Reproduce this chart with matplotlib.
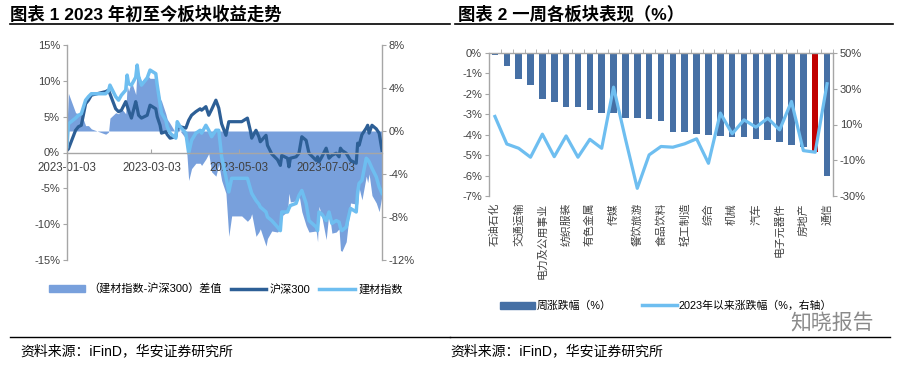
"""
Plot the building materials sector charts: YTD return trend and weekly sector moves.
"""

import matplotlib
matplotlib.use('Agg')
import matplotlib.pyplot as plt
import pandas as pd
from matplotlib.lines import Line2D
from matplotlib.patches import Patch

plt.rcParams['font.family'] = ['Liberation Sans', 'Noto Sans CJK SC', 'DejaVu Sans']
plt.rcParams['axes.unicode_minus'] = False

# ---- chart 1: YTD returns (%), CSI300 and building materials index
dates = [
    '2023-01-03', '2023-01-04', '2023-01-09', '2023-01-11', '2023-01-13',
    '2023-01-16', '2023-01-18', '2023-01-20', '2023-01-30', '2023-02-01',
    '2023-02-02', '2023-02-06', '2023-02-08', '2023-02-10', '2023-02-13',
    '2023-02-14', '2023-02-15', '2023-02-17', '2023-02-20', '2023-02-21',
    '2023-02-22', '2023-02-24', '2023-02-28', '2023-03-02', '2023-03-06',
    '2023-03-07', '2023-03-09', '2023-03-10', '2023-03-13', '2023-03-14',
    '2023-03-16', '2023-03-20', '2023-03-21', '2023-03-23', '2023-03-27',
    '2023-03-29', '2023-03-31', '2023-04-03', '2023-04-06', '2023-04-07',
    '2023-04-10', '2023-04-12', '2023-04-14', '2023-04-17', '2023-04-19',
    '2023-04-21', '2023-04-24', '2023-04-26', '2023-04-28', '2023-05-05',
    '2023-05-09', '2023-05-11', '2023-05-12', '2023-05-15', '2023-05-17',
    '2023-05-18', '2023-05-22', '2023-05-23', '2023-05-26', '2023-05-30',
    '2023-06-01', '2023-06-02', '2023-06-06', '2023-06-07', '2023-06-08',
    '2023-06-12', '2023-06-14', '2023-06-16', '2023-06-19', '2023-06-21',
    '2023-06-26', '2023-06-27', '2023-06-28', '2023-06-30', '2023-07-03',
    '2023-07-05', '2023-07-07', '2023-07-10', '2023-07-12', '2023-07-13',
    '2023-07-14', '2023-07-17', '2023-07-20', '2023-07-24', '2023-07-25',
    '2023-07-26', '2023-07-28', '2023-07-31', '2023-08-01', '2023-08-02',
    '2023-08-04', '2023-08-07', '2023-08-09', '2023-08-11',
]
hs300 = [
    0.3, 0.5, 3.1, 3.6, 3.8, 6.8, 7.3, 8.0, 8.5, 8.7,
    8.2, 6.1, 5.7, 5.9, 7.1, 6.5, 5.9, 4.8, 7.1, 6.2,
    5.2, 4.8, 5.2, 6.6, 6.1, 5.0, 3.8, 2.7, 2.9, 2.5,
    2.0, 2.2, 3.4, 3.6, 3.4, 4.5, 5.2, 5.7, 6.1, 5.9,
    6.4, 5.2, 6.0, 7.3, 6.2, 4.0, 2.4, 4.3, 4.3, 4.3,
    4.8, 3.1, 2.0, 3.1, 2.2, 1.5, 2.4, 1.0, -0.2, -1.0,
    -1.8, -0.4, -0.8, -2.0, -0.8, -0.6, -0.1, 2.2, 1.7, -0.1,
    -1.1, -0.6, -1.3, -0.6, 0.6, -0.8, -0.4, -0.1, -0.6, 0.6,
    0.3, -0.1, -1.1, -1.5, 1.3, 1.0, 2.5, 3.4, 3.8, 2.7,
    3.8, 3.3, 2.7, 0.3,
]
jiancai = [
    0.8, 4.0, 4.8, 5.2, 5.4, 7.3, 7.8, 8.2, 8.2, 8.6,
    9.4, 7.8, 7.3, 8.0, 8.7, 10.8, 9.6, 9.4, 10.5, 12.2,
    10.6, 9.4, 10.4, 11.5, 11.0, 9.4, 6.8, 5.5, 4.5, 3.6,
    2.7, 2.0, 4.3, 3.6, 2.7, -0.1, 1.7, 2.7, 3.1, 2.7,
    3.8, 3.1, 2.2, 3.1, 3.1, -0.6, -3.4, -5.5, -3.6, -3.6,
    -3.6, -5.0, -5.7, -6.7, -7.2, -7.6, -8.3, -9.0, -9.5, -10.4,
    -10.9, -8.3, -8.3, -7.8, -7.4, -7.1, -6.0, -5.3, -7.1, -9.5,
    -10.4, -10.9, -8.3, -8.6, -9.5, -8.3, -9.9, -9.5, -9.7, -10.5,
    -10.9, -10.4, -7.8, -8.3, -5.5, -4.3, -3.9, -0.8, -1.0, -1.3,
    -2.2, -3.4, -4.8, -5.7,
]
date_ticks = ['2023-01-03', '2023-03-03', '2023-05-03', '2023-07-03']

# ---- chart 2: weekly change by sector (%) and YTD change (%, right axis)
sectors = [
    '石油石化', '银行', '交通运输', '非银行金融', '电力及公用事业', '煤炭',
    '纺织服装', '基础化工', '有色金属', '国防军工', '传媒', '农林牧渔',
    '餐饮旅游', '商贸零售', '食品饮料', '医药', '轻工制造', '家电',
    '综合', '钢铁', '机械', '建筑', '汽车', '电力设备及新能源',
    '电子元器件', '计算机', '房地产', '建材', '通信',
]
week_chg = [
    -0.08, -0.62, -1.28, -1.59, -2.25, -2.38, -2.62, -2.64, -2.79, -2.92,
    -2.92, -3.16, -3.16, -3.21, -3.31, -3.85, -3.89, -3.97, -4.00, -4.07,
    -4.10, -4.10, -4.23, -4.26, -4.38, -4.51, -4.59, -4.84, -6.00,
]
ytd_chg = [
    14.5, -0.9, -3.3, -8.3, 4.6, -8.0, 3.6, -8.3, 1.7, -3.3,
    30.9, 2.0, -25.7, -7.0, -2.3, -2.7, -0.8, 2.0, -11.7, 16.4,
    4.8, 12.6, 8.5, 13.5, 7.0, 22.9, -4.6, -5.5, 32.8,
]
highlight = '建材'

DARK = '#2D5F96'
LIGHT = '#6EBEF0'
AREA = '#78A0DC'
BAR = '#4670A5'
RED = '#C00000'
GREY = '#A6A6A6'


def px_axes(fig, x0, y0, x1, y1, W=904, H=365):
    return fig.add_axes([x0 / W, 1 - y1 / H, (x1 - x0) / W, (y1 - y0) / H])


def style_spines(ax, keep):
    for side, sp in ax.spines.items():
        sp.set_visible(side in keep)
        sp.set_color(GREY)
        sp.set_linewidth(1.0)


fig = plt.figure(figsize=(9.04, 3.65), dpi=100)

# ---------------- chart 1
x = pd.to_datetime(dates)
spread = [j - h for j, h in zip(jiancai, hs300)]

ax1 = px_axes(fig, 67, 45, 382, 260)
ax1b = ax1.twinx()
ax1.set_zorder(ax1b.get_zorder() + 1)
ax1.patch.set_visible(False)

ax1b.fill_between(x, 0, spread, color=AREA, lw=0)
ax1b.set_ylim(-12, 8)
ax1b.set_yticks([-12, -8, -4, 0, 4, 8])
ax1b.set_yticklabels([f'{v}%' for v in [-12, -8, -4, 0, 4, 8]])

ax1.plot(x, hs300, color=DARK, lw=2.3)
ax1.plot(x, jiancai, color=LIGHT, lw=2.5)
ax1.set_ylim(-15, 15)
ax1.set_yticks(range(-15, 16, 5))
ax1.set_yticklabels([f'{v}%' for v in range(-15, 16, 5)])
ax1.set_xlim(pd.Timestamp(dates[0]), pd.Timestamp(dates[-1]))
ax1.set_xticks(pd.to_datetime(date_ticks))
ax1.set_xticklabels(date_ticks)
ax1.spines['bottom'].set_position(('data', 0))

style_spines(ax1, ['left', 'bottom'])
style_spines(ax1b, ['right'])
ax1.tick_params(axis='y', direction='out', length=3, color=GREY,
                labelsize=8, pad=2, labelcolor='#404040')
ax1.tick_params(axis='x', direction='in', length=3, color=GREY,
                labelsize=8.3, pad=7, labelcolor='#404040')
ax1b.tick_params(axis='y', direction='out', length=3, color=GREY,
                 labelsize=8, pad=2, labelcolor='#404040')

leg1 = [
    Patch(color=AREA, label='（建材指数-沪深300）差值'),
    Line2D([], [], color=DARK, lw=2.5, label='沪深300'),
    Line2D([], [], color=LIGHT, lw=2.5, label='建材指数'),
]
fig.legend(handles=leg1, loc='center', bbox_to_anchor=(0.25, 0.208), ncol=3,
           frameon=False, fontsize=8, handlelength=3.2, handleheight=0.6,
           handletextpad=0.3, columnspacing=0.8)

# ---------------- chart 2
pos = list(range(len(sectors)))
colors = [RED if s == highlight else BAR for s in sectors]

ax2 = px_axes(fig, 489, 53, 833, 196)
ax2b = ax2.twinx()
ax2.set_zorder(ax2b.get_zorder() - 1)
ax2b.patch.set_visible(False)

ax2.bar(pos, week_chg, width=0.55, color=colors)
ax2.set_ylim(-7, 0)
ax2.set_yticks(range(-7, 1))
ax2.set_yticklabels([f'{v}%' for v in range(-7, 1)])
ax2.set_xlim(-0.5, len(sectors) - 0.5)
ax2.set_xticks(pos[::2])
ax2.set_xticklabels(sectors[::2], rotation=90, va='top', ha='center',
                    fontsize=7.8, color='#404040')
ax2.set_xticks([p + 0.5 for p in pos], minor=True)

ax2b.plot(pos, ytd_chg, color=LIGHT, lw=2.3)
ax2b.set_ylim(-30, 50)
ax2b.set_yticks(range(-30, 51, 20))
ax2b.set_yticklabels([f'{v}%' for v in range(-30, 51, 20)])

style_spines(ax2, ['left', 'top'])
style_spines(ax2b, ['right'])
ax2.tick_params(axis='y', direction='out', length=3, color=GREY,
                labelsize=8, pad=2, labelcolor='#404040')
ax2.tick_params(axis='x', which='major', bottom=True, top=False, length=0,
                pad=5)
ax2.tick_params(axis='x', which='minor', bottom=False, top=True,
                direction='out', length=3, color=GREY)
ax2b.tick_params(axis='y', direction='out', length=3, color=GREY,
                 labelsize=8, pad=2, labelcolor='#404040')

leg2 = [
    Patch(color=BAR, label='周涨跌幅（%）'),
    Line2D([], [], color=LIGHT, lw=2.5, label='2023年以来涨跌幅（%，右轴）'),
]
fig.legend(handles=leg2, loc='center', bbox_to_anchor=(0.737, 0.162), ncol=2,
           frameon=False, fontsize=7.8, handlelength=3.2, handleheight=0.6,
           handletextpad=0.2, columnspacing=2.8)

# ---------------- titles, rules and sources
fig.text(10 / 904, 1 - 14 / 365, '图表 1 2023 年初至今板块收益走势',
         fontsize=12.5, fontweight='bold', va='center')
fig.text(458 / 904, 1 - 14 / 365, '图表 2 一周各板块表现（%）',
         fontsize=12.5, fontweight='bold', va='center')
for x0, x1 in [(10, 450), (455, 893)]:
    fig.add_artist(Line2D([x0 / 904, x1 / 904], [1 - 24 / 365] * 2,
                          color='black', lw=1.2))
for x0, x1 in [(10, 450), (450, 890)]:
    fig.add_artist(Line2D([x0 / 904, x1 / 904], [1 - 337 / 365] * 2,
                          color='black', lw=1.0))
fig.text(20 / 904, 1 - 351 / 365, '资料来源：iFinD，华安证券研究所',
         fontsize=10, va='center')
fig.text(450 / 904, 1 - 351 / 365, '资料来源：iFinD，华安证券研究所',
         fontsize=10, va='center')
fig.text(790 / 904, 1 - 323 / 365, '知晓报告', fontsize=15, color='#8A8A8A',
         va='center')

fig.savefig('out.png', dpi=100)
